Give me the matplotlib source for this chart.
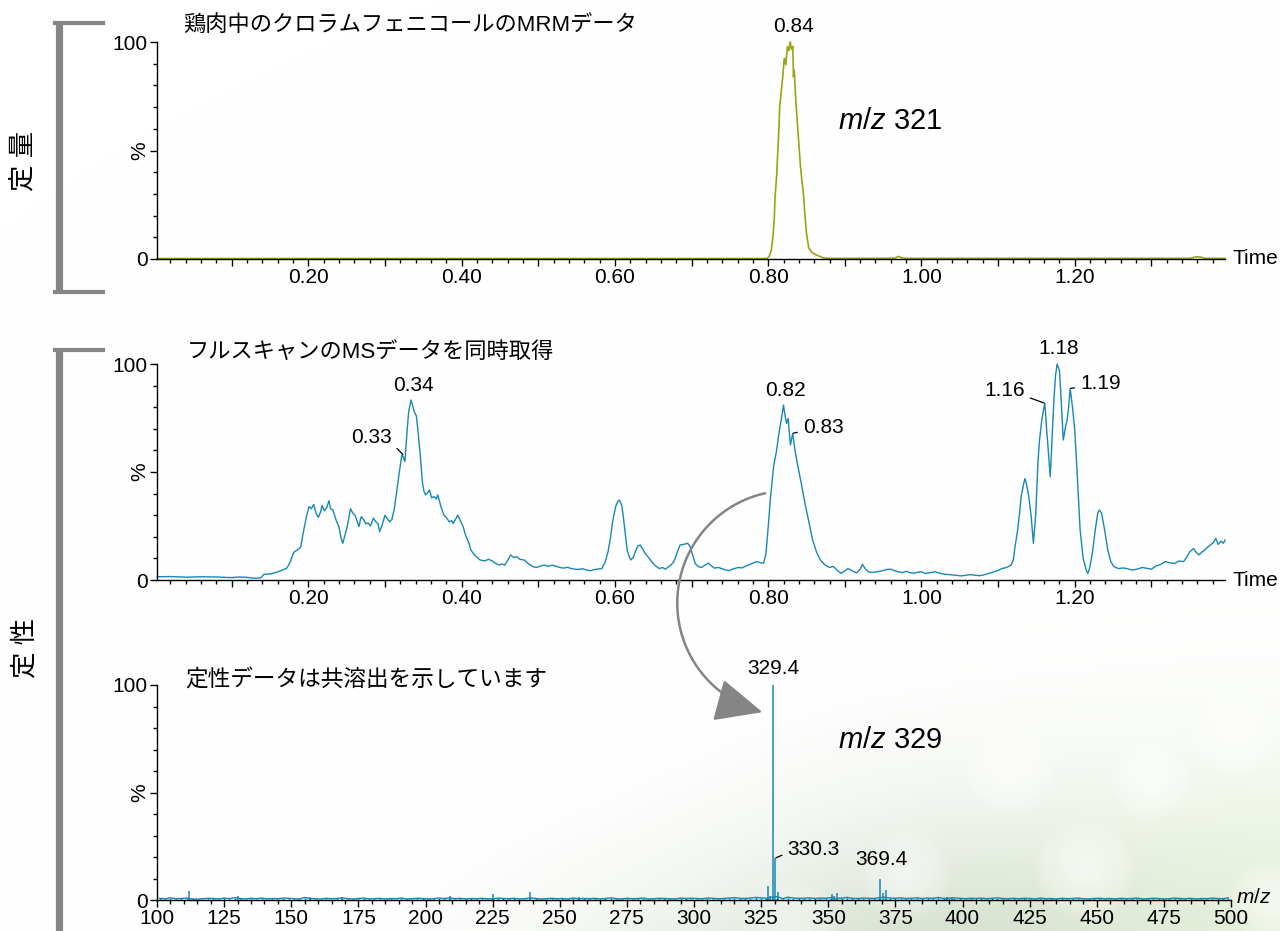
import numpy as np
import matplotlib
matplotlib.use("Agg")
import matplotlib.pyplot as plt
from matplotlib.ticker import MultipleLocator, FuncFormatter
from matplotlib.patches import FancyArrowPatch
from matplotlib.path import Path

plt.rcParams['font.family'] = ['Liberation Sans', 'Noto Sans CJK JP']
plt.rcParams['mathtext.fontset'] = 'custom'
plt.rcParams['mathtext.it'] = 'Liberation Sans:italic'
plt.rcParams['mathtext.rm'] = 'Liberation Sans'

# MRM chromatogram, m/z 321 (retention time in min, relative intensity %)
mrm_time = [0.003, 0.30, 0.60, 0.798, 0.801, 0.804, 0.806, 0.808, 0.809, 0.811,
            0.812, 0.814, 0.815, 0.817, 0.819, 0.821, 0.823, 0.824, 0.825, 0.827,
            0.828, 0.829, 0.830, 0.831, 0.832, 0.833, 0.834, 0.836, 0.839, 0.842,
            0.844, 0.846, 0.848, 0.850, 0.853, 0.856, 0.858, 0.862, 0.865, 0.869,
            0.872, 0.880, 0.950, 0.965, 0.970, 0.975, 0.980, 1.350, 1.358, 1.364,
            1.370, 1.396]
mrm_pct = [0.2, 0.2, 0.2, 0.2, 1.0, 4.0, 9.5, 19.0, 28.7, 38.0,
           45.6, 60.0, 70.0, 77.0, 84.0, 92.5, 89.5, 94.0, 97.8, 96.0,
           99.0, 100.0, 97.0, 96.5, 98.0, 84.0, 87.0, 73.0, 58.0, 43.4,
           36.0, 30.0, 20.0, 11.7, 5.0, 3.5, 2.8, 2.0, 1.5, 1.0,
           0.5, 0.3, 0.3, 0.4, 1.2, 0.5, 0.3, 0.3, 1.0, 0.9,
           0.3, 0.3]

# full-scan TIC
tic_time = [0.003, 0.02, 0.04, 0.06, 0.08, 0.10, 0.11, 0.12, 0.13, 0.138,
            0.142, 0.15, 0.158, 0.165, 0.172, 0.176, 0.181, 0.186, 0.19, 0.194,
            0.198, 0.201, 0.204, 0.207, 0.21, 0.213, 0.216, 0.218, 0.221, 0.224,
            0.227, 0.229, 0.232, 0.236, 0.24, 0.243, 0.245, 0.248, 0.251, 0.255,
            0.258, 0.261, 0.264, 0.266, 0.269, 0.272, 0.275, 0.278, 0.281, 0.285,
            0.288, 0.291, 0.293, 0.296, 0.3, 0.303, 0.306, 0.309, 0.312, 0.315,
            0.318, 0.322, 0.324, 0.326, 0.329, 0.331, 0.334, 0.336, 0.338, 0.341,
            0.343, 0.346, 0.349, 0.351, 0.353, 0.356, 0.358, 0.361, 0.364, 0.367,
            0.369, 0.373, 0.377, 0.381, 0.384, 0.387, 0.389, 0.392, 0.395, 0.399,
            0.402, 0.405, 0.407, 0.41, 0.412, 0.417, 0.424, 0.43, 0.435, 0.439,
            0.444, 0.449, 0.453, 0.456, 0.46, 0.464, 0.468, 0.472, 0.476, 0.482,
            0.487, 0.493, 0.498, 0.503, 0.508, 0.513, 0.518, 0.523, 0.528, 0.533,
            0.538, 0.543, 0.548, 0.553, 0.558, 0.563, 0.568, 0.573, 0.578, 0.583,
            0.587, 0.591, 0.594, 0.597, 0.601, 0.604, 0.606, 0.609, 0.611, 0.614,
            0.616, 0.619, 0.621, 0.624, 0.627, 0.63, 0.633, 0.636, 0.64, 0.643,
            0.647, 0.651, 0.655, 0.658, 0.662, 0.666, 0.67, 0.673, 0.677, 0.681,
            0.685, 0.69, 0.695, 0.698, 0.702, 0.705, 0.709, 0.713, 0.718, 0.722,
            0.726, 0.73, 0.735, 0.74, 0.745, 0.749, 0.753, 0.757, 0.761, 0.766,
            0.771, 0.776, 0.78, 0.785, 0.79, 0.794, 0.797, 0.799, 0.803, 0.807,
            0.811, 0.814, 0.817, 0.82, 0.822, 0.824, 0.826, 0.829, 0.832, 0.835,
            0.838, 0.843, 0.848, 0.853, 0.858, 0.863, 0.868, 0.874, 0.88, 0.885,
            0.89, 0.895, 0.9, 0.904, 0.909, 0.913, 0.916, 0.92, 0.923, 0.927,
            0.931, 0.935, 0.94, 0.945, 0.95, 0.955, 0.96, 0.965, 0.97, 0.975,
            0.98, 0.984, 0.99, 0.995, 1.0, 1.005, 1.01, 1.018, 1.025, 1.032,
            1.04, 1.046, 1.052, 1.058, 1.064, 1.07, 1.076, 1.081, 1.087, 1.093,
            1.099, 1.105, 1.111, 1.117, 1.12, 1.122, 1.125, 1.128, 1.13, 1.133,
            1.135, 1.137, 1.14, 1.143, 1.146, 1.149, 1.152, 1.154, 1.157, 1.159,
            1.161, 1.163, 1.165, 1.168, 1.171, 1.173, 1.175, 1.177, 1.18, 1.182,
            1.185, 1.188, 1.19, 1.192, 1.194, 1.197, 1.2, 1.203, 1.207, 1.211,
            1.215, 1.217, 1.219, 1.222, 1.224, 1.227, 1.23, 1.232, 1.235, 1.239,
            1.243, 1.247, 1.251, 1.257, 1.263, 1.269, 1.275, 1.281, 1.288, 1.294,
            1.3, 1.306, 1.312, 1.318, 1.324, 1.33, 1.336, 1.342, 1.346, 1.35,
            1.355, 1.358, 1.362, 1.366, 1.37, 1.374, 1.378, 1.381, 1.384, 1.387,
            1.391, 1.394, 1.396]
tic_pct = [1.5, 1.6, 1.3, 1.5, 1.4, 1.1, 1.4, 1.2, 0.8, 1.0,
           2.6, 2.8, 3.5, 4.4, 5.5, 8.0, 12.8, 14.0, 15.2, 23.0,
           30.0, 34.0, 33.0, 35.0, 31.0, 29.0, 31.5, 34.5, 32.0, 33.5,
           36.7, 33.0, 32.5, 28.0, 24.5, 19.0, 17.0, 21.0, 25.0, 33.0,
           31.0, 30.0, 27.0, 24.7, 29.3, 28.0, 26.0, 26.5, 25.0, 28.7,
           27.0, 26.0, 22.4, 25.0, 30.0, 28.5, 26.9, 28.0, 32.6, 40.0,
           48.0, 57.9, 57.0, 54.8, 69.4, 78.0, 83.3, 81.0, 78.0, 76.0,
           69.4, 58.0, 44.8, 41.0, 39.4, 40.5, 41.7, 38.0, 38.6, 37.5,
           39.4, 34.0, 30.0, 28.5, 26.9, 27.5, 26.2, 28.0, 30.0, 27.0,
           24.7, 21.0, 19.3, 16.5, 13.9, 11.5, 9.3, 8.8, 9.6, 9.0,
           7.8, 6.9, 7.5, 6.8, 9.0, 11.6, 10.4, 10.8, 9.6, 9.2,
           7.6, 6.2, 5.8, 6.5, 6.9, 6.3, 6.9, 6.4, 5.8, 5.5,
           5.9, 5.3, 5.0, 4.9, 5.2, 4.6, 4.3, 4.8, 5.1, 5.3,
           8.0, 13.0, 19.0, 27.0, 34.0, 36.5, 37.0, 34.5, 29.3, 20.0,
           13.9, 10.5, 9.3, 10.5, 13.5, 15.8, 16.2, 14.5, 12.0, 10.8,
           9.0, 7.2, 6.0, 5.3, 5.8, 5.0, 6.2, 6.9, 8.5, 12.5,
           16.2, 16.5, 17.0, 15.5, 11.0, 7.5, 6.2, 5.8, 7.0, 7.8,
           6.5, 5.5, 5.8, 5.2, 4.6, 4.3, 5.0, 5.4, 5.8, 5.6,
           6.5, 7.2, 7.8, 8.5, 8.0, 7.8, 12.0, 20.0, 38.0, 52.5,
           60.0, 67.9, 74.0, 81.0, 76.0, 72.5, 74.8, 62.5, 67.9, 60.0,
           54.0, 45.0, 35.5, 27.0, 18.5, 13.0, 9.3, 7.0, 5.8, 6.3,
           4.5, 3.1, 4.2, 5.3, 4.4, 3.6, 3.4, 5.0, 7.3, 5.0,
           3.8, 3.5, 3.7, 4.0, 4.4, 4.9, 5.0, 4.3, 3.8, 3.4,
           4.0, 3.5, 3.1, 3.6, 3.8, 3.0, 3.3, 3.8, 3.0, 2.6,
           2.4, 2.1, 1.9, 2.2, 2.5, 2.2, 2.0, 2.3, 3.0, 3.6,
           4.3, 5.3, 5.8, 6.9, 9.5, 15.4, 22.0, 31.0, 38.6, 44.0,
           47.0, 44.5, 38.6, 30.0, 17.0, 30.0, 55.0, 64.8, 74.0, 78.5,
           81.8, 71.0, 62.0, 47.8, 70.0, 84.9, 95.0, 100.0, 96.9, 85.0,
           64.8, 71.0, 74.0, 80.0, 88.7, 80.0, 69.4, 50.0, 23.1, 10.0,
           4.5, 3.1, 5.0, 10.5, 15.4, 24.0, 31.0, 32.4, 31.0, 23.1,
           14.0, 8.5, 6.2, 5.3, 5.6, 5.2, 4.6, 5.0, 5.8, 5.4,
           5.0, 6.5, 7.2, 8.5, 8.0, 7.6, 8.8, 8.5, 10.5, 13.0,
           14.6, 13.0, 11.6, 13.0, 14.0, 15.4, 16.5, 17.5, 19.3, 16.5,
           18.0, 17.0, 18.5]

# mass spectrum at 0.82 min: main ions and background sticks
ms_peak_mz = [112.1, 130.0, 157.0, 169.0, 209.1, 225.0, 239.1, 257.0, 327.4, 328.4,
              329.4, 330.3, 331.3, 351.3, 352.3, 353.4, 369.4, 370.3, 371.4, 394.2, 396.2]
ms_peak_int = [4.2, 1.8, 1.6, 1.4, 1.8, 2.8, 3.8, 1.5, 6.5, 2.0,
               100.0, 19.5, 3.9, 2.8, 1.8, 3.3, 10.0, 3.3, 4.6, 1.6, 1.5]
ms_noise_mz = list(range(101, 500, 2))
ms_noise_int = [0.8, 0.5, 1.0, 0.6, 0.7, 0.9, 0.5, 0.4, 0.6, 0.8, 0.7, 0.5, 0.9, 0.6, 1.1, 0.7, 0.5, 0.8, 0.6, 0.9,
                0.5, 0.7, 0.6, 0.9, 0.8, 0.6, 0.5, 1.2, 0.7, 0.6, 0.5, 0.8, 0.6, 0.7, 1.0, 0.6, 0.5, 0.7, 0.9, 0.5,
                0.6, 0.8, 0.5, 0.7, 0.6, 0.9, 0.5, 0.6, 0.8, 0.7, 0.5, 0.6, 0.9, 0.7, 1.0, 0.6, 0.8, 0.5, 0.7, 0.6,
                0.8, 0.6, 0.5, 0.9, 0.7, 0.6, 0.8, 0.5, 0.6, 1.0, 0.7, 0.5, 0.6, 0.8, 0.6, 0.7, 0.5, 0.9, 0.6, 0.7,
                0.6, 0.8, 0.5, 0.7, 1.0, 0.6, 0.5, 0.8, 0.6, 0.7, 0.9, 0.5, 0.6, 0.8, 0.7, 0.6, 0.5, 0.9, 0.7, 0.8,
                0.7, 0.6, 0.9, 0.8, 0.6, 0.7, 0.9, 1.1, 0.8, 0.7, 0.9, 1.2, 1.0, 0.8, 1.4, 1.6, 0.6, 1.3, 0.9, 0.8,
                0.8, 1.0, 0.7, 0.9, 0.8, 1.1, 0.7, 0.9, 1.2, 0.8, 0.7, 0.9, 0.8, 0.7, 1.1, 1.3, 0.9, 0.8, 1.0, 0.7,
                0.8, 1.0, 0.7, 0.9, 0.8, 1.2, 0.7, 0.9, 1.0, 0.8, 0.6, 0.8, 0.7, 0.9, 0.6, 0.8, 1.0, 0.7, 0.6, 0.8,
                0.6, 0.8, 0.7, 0.5, 0.9, 0.6, 0.7, 0.5, 0.8, 0.6, 0.7, 0.9, 0.6, 0.5, 0.7, 0.8, 0.6, 0.7, 0.5, 0.8,
                0.6, 0.7, 0.9, 0.5, 0.6, 0.8, 0.7, 0.5, 0.6, 0.9, 0.7, 0.6, 0.8, 0.5, 0.7, 0.6, 0.9, 0.7, 0.6, 1.0]

mrm_labels = [(0.829, 100.0, '0.84')]
tic_labels = [(0.334, 83.3, '0.34'), (0.82, 81.0, '0.82'), (1.177, 100.0, '1.18')]
# labels with a leader line: time, %, text, text offset (px), alignment
tic_leaders = [(0.324, 57.9, '0.33', (-11, 17), 'right'),
               (0.832, 67.9, '0.83', (10, 6), 'left'),
               (1.161, 81.8, '1.16', (-20, 13), 'right'),
               (1.194, 88.7, '1.19', (10, 5), 'left')]

BLUE = '#1888b2'
OLIVE = '#9ca314'
GRAY = '#858585'
W, H = 1280, 931
FS = 15

fig = plt.figure(figsize=(W / 100, H / 100), dpi=100)


def fx(x):
    return x / W


def fy(y):
    return 1 - y / H


# soft green backdrop in the lower right
bg = fig.add_axes([0, 0, 1, 1], zorder=-10)
yy, xx = np.mgrid[0:H, 0:W]
g1 = np.exp(-(((xx - 960) / 230.0) ** 2 + ((yy - 990) / 180.0) ** 2))
g2 = np.exp(-(((xx - 1300) / 240.0) ** 2 + ((yy - 920) / 170.0) ** 2))
g3 = np.exp(-(((xx - 700) / 240.0) ** 2 + ((yy - 1010) / 140.0) ** 2))
for cx, cy, r in [(905, 875, 45), (1085, 870, 50), (1235, 730, 45), (1150, 780, 40),
                  (1010, 770, 45), (790, 930, 50), (1270, 900, 40)]:
    hole = np.clip(1 - np.hypot(xx - cx, yy - cy) / r, 0, 1) ** 0.6
    g1 *= 1 - 0.6 * hole
    g2 *= 1 - 0.6 * hole
t1 = 0.7 * g1 + 0.3 * g3
t2 = 0.6 * g2
img = np.ones((H, W, 3))
for k, (c1, c2) in enumerate(zip((0.80, 0.85, 0.77), (0.86, 0.93, 0.80))):
    img[..., k] -= t1 * (1 - c1) + t2 * (1 - c2)
bg.imshow(np.clip(img, 0, 1), aspect='auto', extent=(0, 1, 0, 1), interpolation='bilinear')
bg.axis('off')

ax1 = fig.add_axes([fx(157), fy(259), 1068 / W, 217 / H])
ax2 = fig.add_axes([fx(157), fy(580), 1068 / W, 216 / H])
ax3 = fig.add_axes([fx(157), fy(900), 1074 / W, 215 / H])


def style(ax):
    ax.set_facecolor('none')
    for s in ['top', 'right']:
        ax.spines[s].set_visible(False)
    for s in ['left', 'bottom']:
        ax.spines[s].set_linewidth(1.0)
    ax.set_ylim(0, 100)
    ax.set_yticks([0, 50, 100])
    ax.set_yticklabels(['0', '', '100'])
    ax.yaxis.set_minor_locator(MultipleLocator(10))
    ax.tick_params(axis='both', which='major', length=5, width=1, labelsize=FS)
    ax.tick_params(axis='both', which='minor', length=3, width=1)
    ax.tick_params(axis='y', which='major', pad=1.5)
    ax.tick_params(axis='x', which='major', pad=1.5)
    ax.text(-0.016, 0.5, '%', transform=ax.transAxes, rotation=90,
            ha='center', va='center', fontsize=FS)


time_fmt = FuncFormatter(lambda v, _: f'{v:.2f}' if v > 0.05 and round(v * 10) % 2 == 0 else '')
for ax in (ax1, ax2):
    style(ax)
    ax.set_xlim(0.0026, 1.396)
    ax.xaxis.set_major_locator(MultipleLocator(0.1))
    ax.xaxis.set_minor_locator(MultipleLocator(0.02))
    ax.xaxis.set_major_formatter(time_fmt)
    ax.text(1.0066, 0, 'Time', transform=ax.transAxes, ha='left', va='center', fontsize=FS)

style(ax3)
ax3.set_xlim(100, 500)
ax3.xaxis.set_major_locator(MultipleLocator(25))
ax3.xaxis.set_minor_locator(MultipleLocator(5))
ax3.text(1.005, 0.01, '$m/z$', transform=ax3.transAxes, ha='left', va='center', fontsize=FS)

# chromatograms and spectrum
ax1.plot(mrm_time, mrm_pct, color=OLIVE, lw=1.2, clip_on=False)
ax2.plot(tic_time, tic_pct, color=BLUE, lw=1.0, clip_on=False)
ax3.vlines(ms_noise_mz, 0, ms_noise_int, color=BLUE, lw=1.0)
ax3.plot(ms_noise_mz, ms_noise_int, color=BLUE, lw=1.0)
ax3.vlines(ms_peak_mz, 0, ms_peak_int, color=BLUE, lw=1.1, clip_on=False)

# peak labels
for t, v, s in mrm_labels:
    ax1.annotate(s, (t, v), xytext=(3, 16), textcoords='offset pixels',
                 ha='center', va='center', fontsize=FS)
for t, v, s in tic_labels:
    ax2.annotate(s, (t, v), xytext=(2, 15), textcoords='offset pixels',
                 ha='center', va='center', fontsize=FS)
for t, v, s, off, ha in tic_leaders:
    rel = (1, 0.2) if ha == 'right' else (0, 0.3)
    ax2.annotate(s, (t, v), xytext=off, textcoords='offset pixels', ha=ha, va='center',
                 fontsize=FS,
                 arrowprops=dict(arrowstyle='-', color='k', lw=0.9, relpos=rel,
                                 shrinkA=2, shrinkB=0.5))

ax3.annotate('329.4', (329.4, 100.0), xytext=(0, 16), textcoords='offset pixels',
             ha='center', va='center', fontsize=FS)
ax3.annotate('330.3', (330.3, 19.5), xytext=(12, 9), textcoords='offset pixels',
             ha='left', va='center', fontsize=FS,
             arrowprops=dict(arrowstyle='-', color='k', lw=0.9, relpos=(0, 0.3),
                             shrinkA=2, shrinkB=0.5))
ax3.annotate('369.4', (369.4, 10.0), xytext=(1, 19), textcoords='offset pixels',
             ha='center', va='center', fontsize=FS)

# panel captions
fig.text(fx(183), fy(25), '鶏肉中のクロラムフェニコールのMRMデータ', fontsize=16, va='center')
fig.text(fx(187), fy(352), 'フルスキャンのMSデータを同時取得', fontsize=16, va='center')
fig.text(fx(185), fy(680), '定性データは共溶出を示しています', fontsize=16.3, va='center')
fig.text(fx(838), fy(121), '$m/z$ 321', fontsize=21, va='center')
fig.text(fx(838), fy(740), '$m/z$ 329', fontsize=21, va='center')

# side brackets
fig.add_artist(plt.Line2D([fx(58.5)] * 2, [fy(21), fy(293)], color=GRAY, lw=5.2,
                          solid_capstyle='butt'))
fig.add_artist(plt.Line2D([fx(55), fx(103)], [fy(22.5)] * 2, color=GRAY, lw=3))
fig.add_artist(plt.Line2D([fx(55), fx(103)], [fy(291.5)] * 2, color=GRAY, lw=3))
fig.add_artist(plt.Line2D([fx(59)] * 2, [fy(348.5), fy(935)], color=GRAY, lw=5.2,
                          solid_capstyle='butt'))
fig.add_artist(plt.Line2D([fx(55), fx(103)], [fy(350)] * 2, color=GRAY, lw=3))
fig.text(fx(23), fy(161), '定 量', rotation=90, fontsize=19, ha='center', va='center')
fig.text(fx(25), fy(648), '定 性', rotation=90, fontsize=19, ha='center', va='center')

# curved arrow from the TIC peak down to the spectrum
cx, cy, r = 789.75, 603.0, 112.5
ang = np.radians(np.linspace(257.3, 104.0, 60))
arc = np.column_stack([fx(cx + r * np.cos(ang)), fy(cy + r * np.sin(ang))])
arrow = FancyArrowPatch(path=Path(arc), arrowstyle='-|>,head_length=1.1,head_width=0.5',
                        mutation_scale=27, color=GRAY, lw=1.8,
                        transform=fig.transFigure)
fig.add_artist(arrow)

fig.savefig('out.png', dpi=100)
